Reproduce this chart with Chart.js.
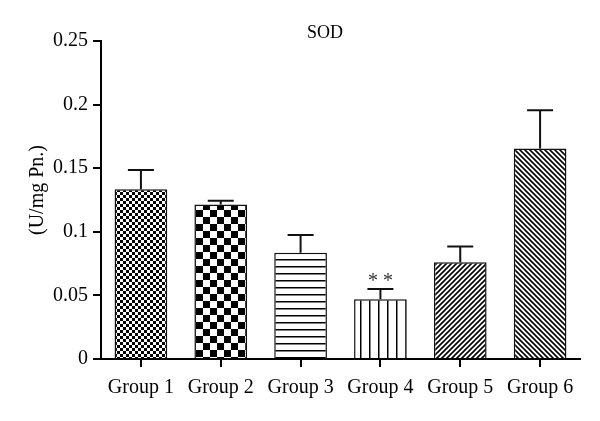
<!DOCTYPE html>
<html>
<head>
<meta charset="utf-8">
<script src="https://cdn.jsdelivr.net/npm/chart.js@4"></script>
<style>
  html, body { margin:0; padding:0; background:#fff; }
  #wrap { width:600px; height:421px; position:relative; }
</style>
</head>
<body>
<div id="wrap"><canvas id="chart" width="600" height="421"></canvas></div>
<script>
// data
const groups   = ['Group 1','Group 2','Group 3','Group 4','Group 5','Group 6'];
const sodMeans = [0.1335, 0.1215, 0.0835, 0.047, 0.0760, 0.1655];
const sodErr   = [0.0150, 0.0030, 0.0140, 0.008, 0.0125, 0.0300];
const marks    = ['', '', '', '* *', '', ''];
const yTicks   = [0, 0.05, 0.1, 0.15, 0.2, 0.25];

const SERIF = '"Liberation Serif", "DejaVu Serif", serif';

function tile(w, h, draw) {
  const c = document.createElement('canvas');
  c.width = w; c.height = h;
  const g = c.getContext('2d');
  g.fillStyle = '#fff'; g.fillRect(0, 0, w, h);
  g.fillStyle = '#000'; g.strokeStyle = '#000';
  draw(g);
  return document.getElementById('chart').getContext('2d').createPattern(c, 'repeat');
}
function checker(s) {
  return tile(2*s, 2*s, g => { g.fillRect(0,0,s,s); g.fillRect(s,s,s,s); });
}
const patterns = [
  checker(3),
  checker(7),
  tile(1, 7, g => g.fillRect(0, 0, 1, 1.5)),
  tile(9, 1, g => g.fillRect(0, 0, 1.5, 1)),
  tile(5, 5, g => { g.lineWidth = 1.6; g.beginPath();
    g.moveTo(-1,6); g.lineTo(6,-1); g.moveTo(-1,1); g.lineTo(1,-1); g.moveTo(4,6); g.lineTo(6,4); g.stroke(); }),
  tile(5, 5, g => { g.lineWidth = 1.6; g.beginPath();
    g.moveTo(-1,-1); g.lineTo(6,6); g.moveTo(4,-1); g.lineTo(6,1); g.moveTo(-1,4); g.lineTo(1,6); g.stroke(); })
];

const extras = {
  id: 'extras',
  afterDatasetsDraw(chart) {
    const {ctx, scales:{x, y}} = chart;
    ctx.save();
    ctx.strokeStyle = '#111';
    ctx.lineWidth = 2;
    sodMeans.forEach((v, i) => {
      const cx = x.getPixelForValue(i);
      const top = y.getPixelForValue(v + sodErr[i]);
      ctx.beginPath();
      ctx.moveTo(cx, y.getPixelForValue(v)); ctx.lineTo(cx, top);
      ctx.moveTo(cx - 13, top); ctx.lineTo(cx + 13, top);
      ctx.stroke();
      if (marks[i]) {
        ctx.fillStyle = '#333';
        ctx.font = '20px ' + SERIF;
        ctx.textAlign = 'center';
        ctx.textBaseline = 'middle';
        ctx.fillText(marks[i], cx, top - 7);
      }
    });
    ctx.fillStyle = '#000';
    ctx.textAlign = 'center';
    ctx.textBaseline = 'middle';
    ctx.font = '18px ' + SERIF;
    ctx.fillText('SOD', 325, 33);
    ctx.translate(38, 190);
    ctx.rotate(-Math.PI / 2);
    ctx.font = '20px ' + SERIF;
    ctx.fillText('(U/mg Pn.)', 0, 0);
    ctx.restore();
  }
};

new Chart(document.getElementById('chart'), {
  type: 'bar',
  data: {
    labels: groups,
    datasets: [{
      data: sodMeans,
      backgroundColor: patterns,
      borderColor: '#111',
      borderWidth: 1.5,
      barPercentage: 0.66,
      categoryPercentage: 1
    }]
  },
  options: {
    responsive: false,
    animation: false,
    layout: { padding: { top: 41, right: 20, left: 0, bottom: 0 } },
    plugins: { legend: { display: false }, tooltip: { enabled: false } },
    scales: {
      x: {
        grid: { offset: false, drawOnChartArea: false, tickLength: 8, color: '#000', lineWidth: 2 },
        border: { color: '#000', width: 2 },
        ticks: { color: '#000', font: { family: SERIF, size: 20 }, padding: 9, maxRotation: 0 },
        afterFit(s) { s.height = 62; }
      },
      y: {
        min: 0, max: 0.25,
        afterBuildTicks(s) { s.ticks = yTicks.map(v => ({ value: v })); },
        grid: { drawOnChartArea: false, tickLength: 8, color: '#000', lineWidth: 2 },
        border: { color: '#000', width: 2 },
        ticks: { color: '#000', font: { family: SERIF, size: 20 }, padding: 5,
                 callback: v => String(v) },
        afterFit(s) { s.width = 101; }
      }
    }
  },
  plugins: [extras]
});
</script>
</body>
</html>
